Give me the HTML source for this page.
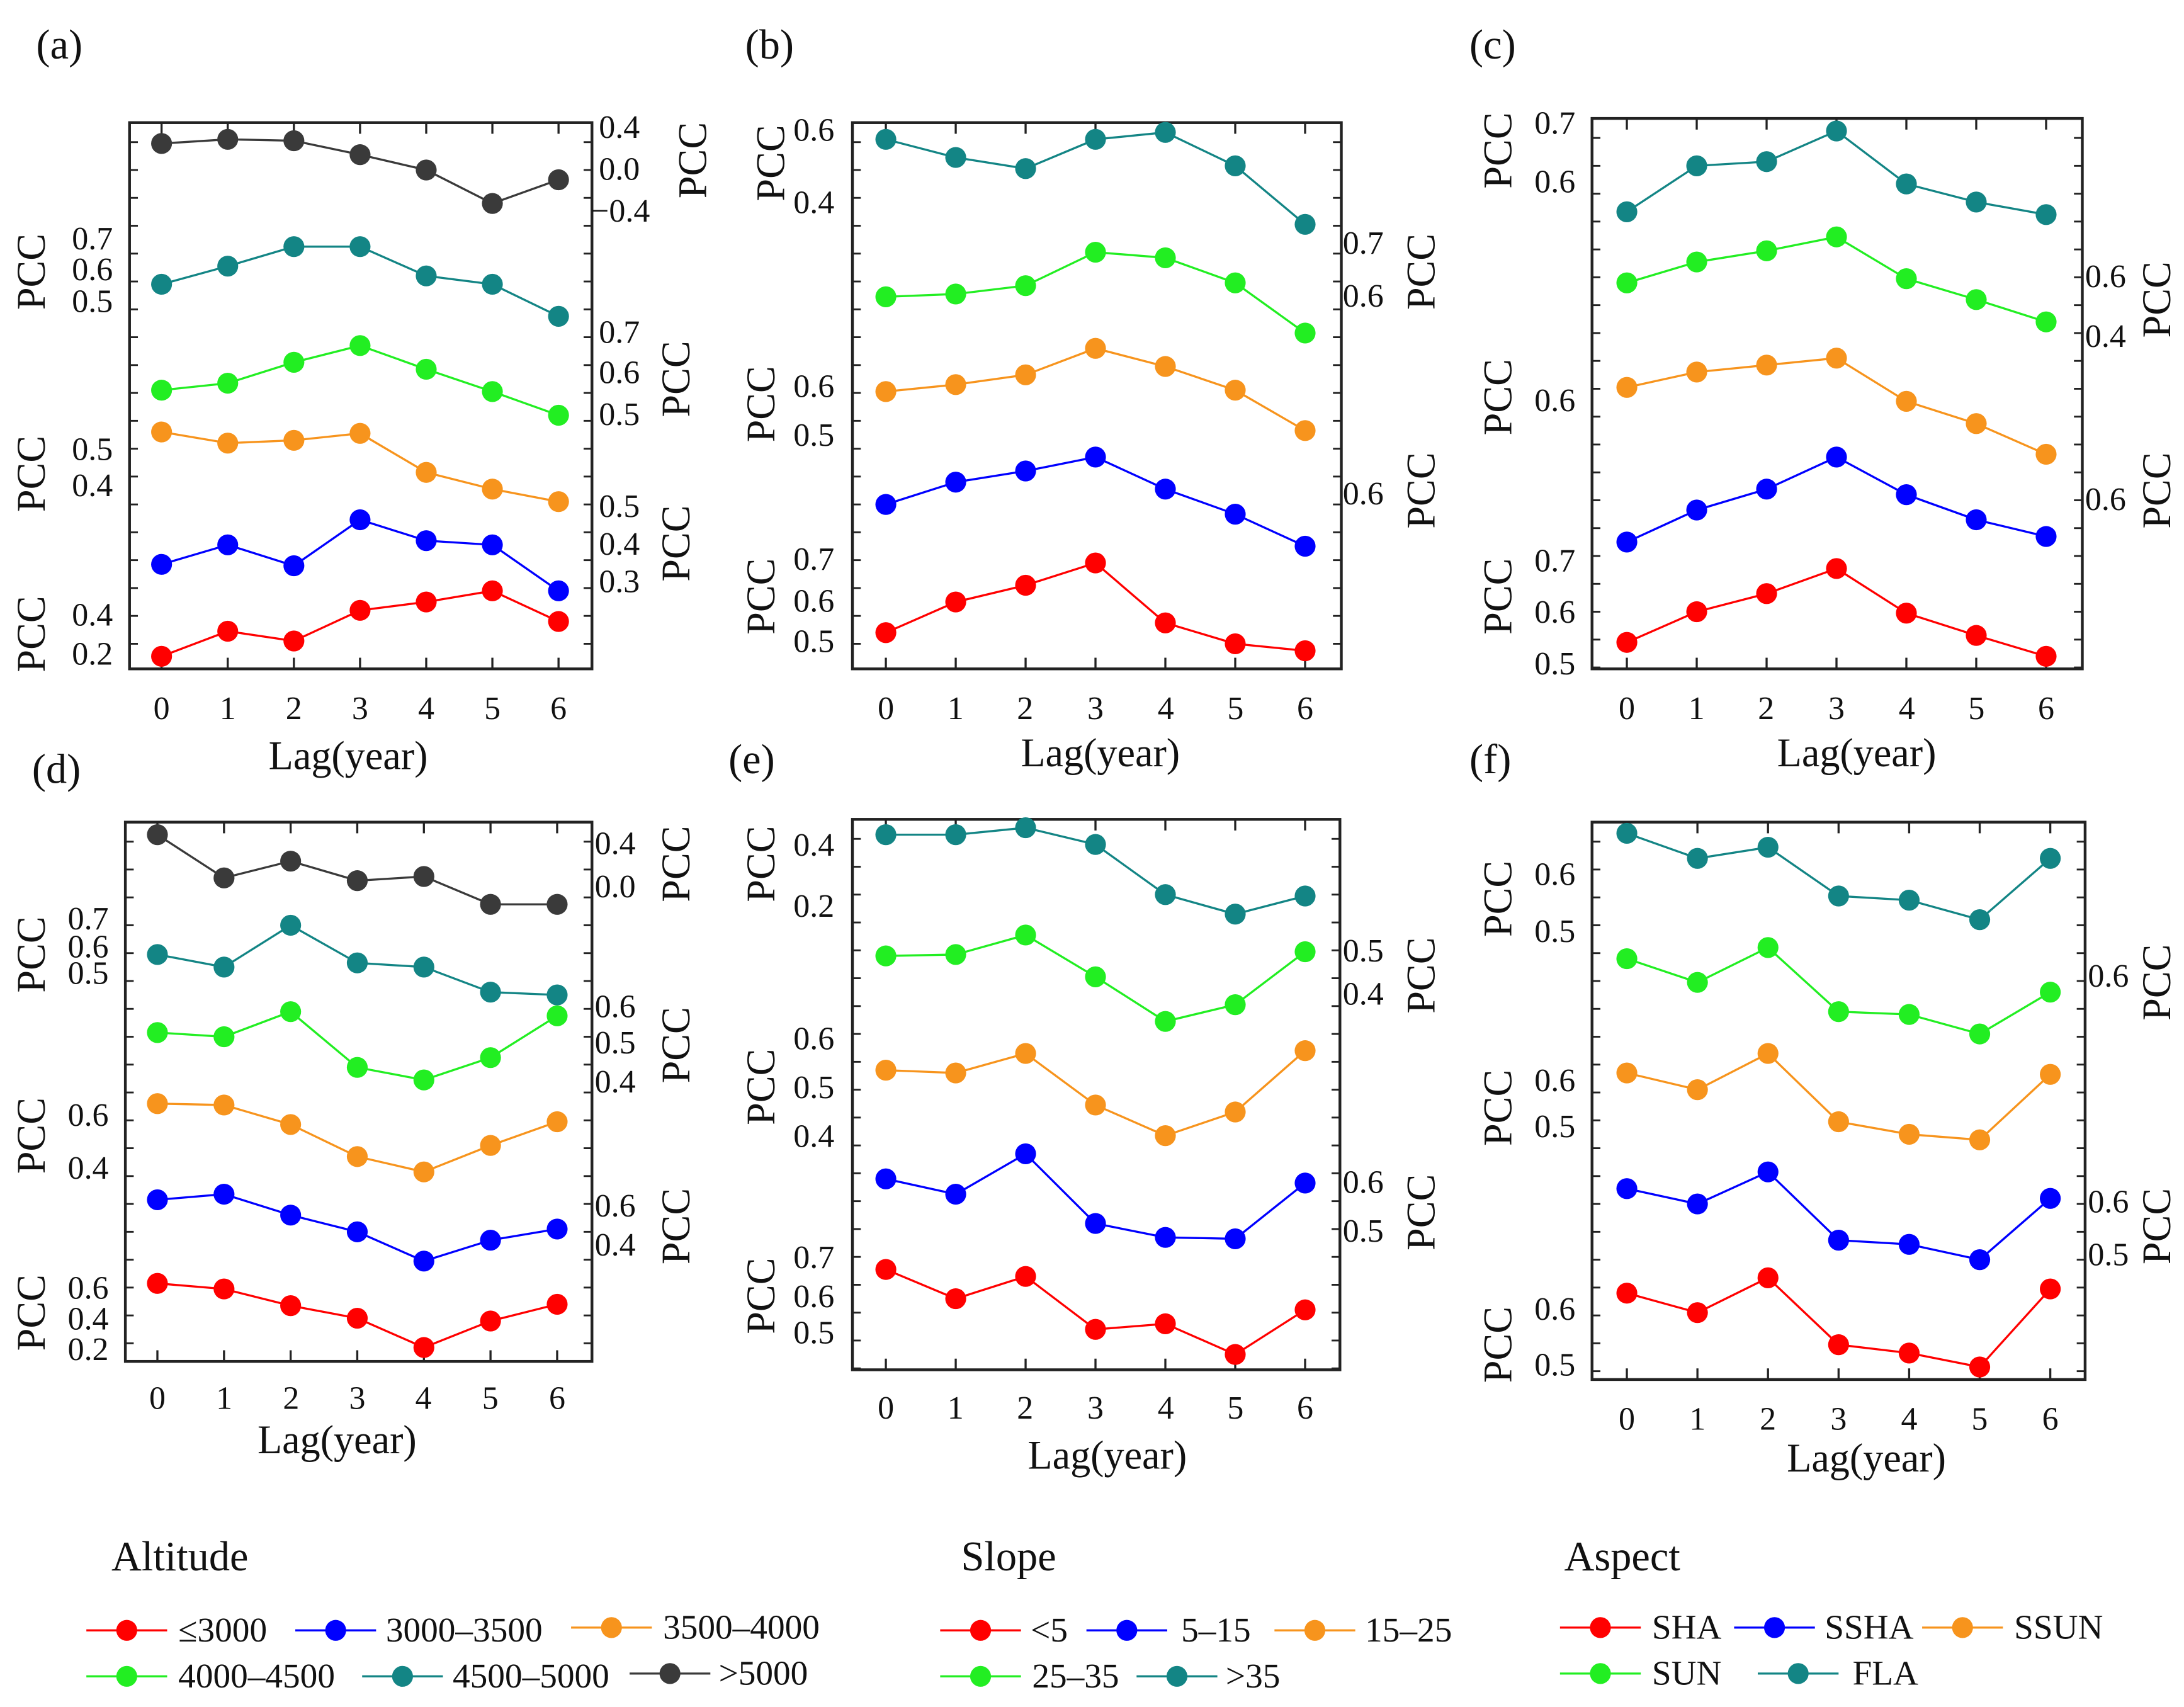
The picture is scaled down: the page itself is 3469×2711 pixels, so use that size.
<!DOCTYPE html>
<html><head><meta charset="utf-8"><style>
html,body{margin:0;padding:0;background:#fff}
svg{display:block}
text{font-family:"Liberation Serif",serif;fill:#111}
.t{font-size:23.5px}
.p{font-size:29px}
.l{font-size:30px}
.g{font-size:25px}
</style></head><body>
<svg id="s" width="3469" height="2711" viewBox="0 0 1568 1225" preserveAspectRatio="none" xmlns="http://www.w3.org/2000/svg">
<g id="shapes"></g>
<text class="l" x="26" y="42">(a)</text>
<text class="l" x="535" y="42">(b)</text>
<text class="l" x="1055" y="42">(c)</text>
<text class="l" x="23" y="562">(d)</text>
<text class="l" x="523" y="555">(e)</text>
<text class="l" x="1055" y="555">(f)</text>
<g class="t" text-anchor="middle">
<text x="116" y="516">0</text><text x="163.5" y="516">1</text><text x="211" y="516">2</text><text x="258.5" y="516">3</text><text x="306" y="516">4</text><text x="353.5" y="516">5</text><text x="401" y="516">6</text>
<text x="636" y="516">0</text><text x="686" y="516">1</text><text x="736" y="516">2</text><text x="786.5" y="516">3</text><text x="837" y="516">4</text><text x="887" y="516">5</text><text x="937" y="516">6</text>
<text x="1168" y="516">0</text><text x="1218" y="516">1</text><text x="1268" y="516">2</text><text x="1318.5" y="516">3</text><text x="1369" y="516">4</text><text x="1419" y="516">5</text><text x="1469" y="516">6</text>
<text x="113" y="1011">0</text><text x="161" y="1011">1</text><text x="209" y="1011">2</text><text x="256.5" y="1011">3</text><text x="304" y="1011">4</text><text x="352" y="1011">5</text><text x="400" y="1011">6</text>
<text x="636" y="1018">0</text><text x="686" y="1018">1</text><text x="736" y="1018">2</text><text x="786.5" y="1018">3</text><text x="837" y="1018">4</text><text x="887" y="1018">5</text><text x="937" y="1018">6</text>
<text x="1168" y="1026">0</text><text x="1218.7" y="1026">1</text><text x="1269.3" y="1026">2</text><text x="1320" y="1026">3</text><text x="1370.7" y="1026">4</text><text x="1421.3" y="1026">5</text><text x="1472" y="1026">6</text>
</g>
<g class="p" text-anchor="middle">
<text x="250" y="552">Lag(year)</text>
<text x="790" y="550">Lag(year)</text>
<text x="1333" y="550">Lag(year)</text>
<text x="242" y="1043">Lag(year)</text>
<text x="795" y="1054">Lag(year)</text>
<text x="1340" y="1056">Lag(year)</text>
</g>
<g class="t" text-anchor="end">
<text x="81" y="179">0.7</text><text x="81" y="201">0.6</text><text x="81" y="224">0.5</text>
<text x="81" y="330">0.5</text><text x="81" y="356">0.4</text>
<text x="81" y="449">0.4</text><text x="81" y="477">0.2</text>
<text x="599" y="101">0.6</text><text x="599" y="153">0.4</text>
<text x="599" y="285">0.6</text><text x="599" y="320">0.5</text>
<text x="599" y="409">0.7</text><text x="599" y="439">0.6</text><text x="599" y="468">0.5</text>
<text x="1131" y="96">0.7</text><text x="1131" y="138">0.6</text>
<text x="1131" y="295">0.6</text>
<text x="1131" y="410">0.7</text><text x="1131" y="447">0.6</text><text x="1131" y="484">0.5</text>
<text x="78" y="667">0.7</text><text x="78" y="687">0.6</text><text x="78" y="706">0.5</text>
<text x="78" y="808">0.6</text><text x="78" y="846">0.4</text>
<text x="78" y="932">0.6</text><text x="78" y="954">0.4</text><text x="78" y="976">0.2</text>
<text x="599" y="614">0.4</text><text x="599" y="658">0.2</text>
<text x="599" y="753">0.6</text><text x="599" y="788">0.5</text><text x="599" y="823">0.4</text>
<text x="599" y="910">0.7</text><text x="599" y="938">0.6</text><text x="599" y="964">0.5</text>
<text x="1131" y="635">0.6</text><text x="1131" y="676">0.5</text>
<text x="1131" y="783">0.6</text><text x="1131" y="816">0.5</text>
<text x="1131" y="947">0.6</text><text x="1131" y="987">0.5</text>
</g>
<g class="t">
<text x="430" y="99">0.4</text><text x="430" y="129">0.0</text><text x="424" y="159">−0.4</text>
<text x="430" y="246">0.7</text><text x="430" y="275">0.6</text><text x="430" y="305">0.5</text>
<text x="430" y="371">0.5</text><text x="430" y="398">0.4</text><text x="430" y="425">0.3</text>
<text x="964" y="182">0.7</text><text x="964" y="220">0.6</text>
<text x="964" y="362">0.6</text>
<text x="1497" y="206">0.6</text><text x="1497" y="249">0.4</text>
<text x="1497" y="366">0.6</text>
<text x="427" y="613">0.4</text><text x="427" y="644">0.0</text>
<text x="427" y="730">0.6</text><text x="427" y="756">0.5</text><text x="427" y="784">0.4</text>
<text x="427" y="873">0.6</text><text x="427" y="901">0.4</text>
<text x="964" y="690">0.5</text><text x="964" y="721">0.4</text>
<text x="964" y="856">0.6</text><text x="964" y="891">0.5</text>
<text x="1499" y="708">0.6</text>
<text x="1499" y="870">0.6</text><text x="1499" y="908">0.5</text>
</g>
<g class="p" text-anchor="middle">
<text transform="translate(32,195) rotate(-90)">PCC</text>
<text transform="translate(32,340) rotate(-90)">PCC</text>
<text transform="translate(32,455) rotate(-90)">PCC</text>
<text transform="translate(507,115) rotate(-90)">PCC</text>
<text transform="translate(495,272) rotate(-90)">PCC</text>
<text transform="translate(495,390) rotate(-90)">PCC</text>
<text transform="translate(563,117) rotate(-90)">PCC</text>
<text transform="translate(556,290) rotate(-90)">PCC</text>
<text transform="translate(556,428) rotate(-90)">PCC</text>
<text transform="translate(1030,195) rotate(-90)">PCC</text>
<text transform="translate(1030,352) rotate(-90)">PCC</text>
<text transform="translate(1085,108) rotate(-90)">PCC</text>
<text transform="translate(1085,285) rotate(-90)">PCC</text>
<text transform="translate(1085,428) rotate(-90)">PCC</text>
<text transform="translate(1558,215) rotate(-90)">PCC</text>
<text transform="translate(1558,352) rotate(-90)">PCC</text>
<text transform="translate(32,685) rotate(-90)">PCC</text>
<text transform="translate(32,815) rotate(-90)">PCC</text>
<text transform="translate(32,942) rotate(-90)">PCC</text>
<text transform="translate(495,620) rotate(-90)">PCC</text>
<text transform="translate(495,750) rotate(-90)">PCC</text>
<text transform="translate(495,880) rotate(-90)">PCC</text>
<text transform="translate(556,620) rotate(-90)">PCC</text>
<text transform="translate(556,780) rotate(-90)">PCC</text>
<text transform="translate(556,930) rotate(-90)">PCC</text>
<text transform="translate(1030,700) rotate(-90)">PCC</text>
<text transform="translate(1030,870) rotate(-90)">PCC</text>
<text transform="translate(1085,645) rotate(-90)">PCC</text>
<text transform="translate(1085,795) rotate(-90)">PCC</text>
<text transform="translate(1085,965) rotate(-90)">PCC</text>
<text transform="translate(1558,705) rotate(-90)">PCC</text>
<text transform="translate(1558,880) rotate(-90)">PCC</text>
</g>
<g class="l">
<text x="80" y="1127">Altitude</text>
<text x="690" y="1127">Slope</text>
<text x="1123" y="1127">Aspect</text>
</g>
<g class="g">
<text x="128" y="1178">≤3000</text><text x="277" y="1178">3000–3500</text><text x="476" y="1176">3500–4000</text>
<text x="128" y="1211">4000–4500</text><text x="325" y="1211">4500–5000</text><text x="516" y="1209">&gt;5000</text>
<text x="740" y="1178">&lt;5</text><text x="848" y="1178">5–15</text><text x="980" y="1178">15–25</text>
<text x="741" y="1211">25–35</text><text x="880" y="1211">&gt;35</text>
<text x="1186" y="1176">SHA</text><text x="1310" y="1176">SSHA</text><text x="1446" y="1176">SSUN</text>
<text x="1186" y="1209">SUN</text><text x="1330" y="1209">FLA</text>
</g>
</svg>
<script>
var C={r:"#ff0000",b:"#0000ff",o:"#f7941d",g:"#22ee22",t:"#138585",k:"#3a3a3a"};
var P=[
 {box:[93,88,425,480],x0:116,x1:401,s:{k:[103,100,101,111,122,146,129],t:[204,191,177,177,198,204,227],g:[280,275,260,248,265,281,298],o:[310,318,316,311,339,351,360],b:[405,391,406,373,388,391,424],r:[471,453,460,438,432,424,446]}},
 {box:[612,88,963,480],x0:636,x1:937,s:{t:[100,113,121,100,95,119,161],g:[213,211,205,181,185,203,239],o:[281,276,269,250,263,280,309],b:[362,346,338,328,351,369,392],r:[454,432,420,404,447,462,467]}},
 {box:[1143,85,1495,480],x0:1168,x1:1469,s:{t:[152,119,116,94,132,145,154],g:[203,188,180,170,200,215,231],o:[278,267,262,257,288,304,326],b:[389,366,351,328,355,373,385],r:[461,439,426,408,440,456,471]}},
 {box:[90,590,425,977],x0:113,x1:400,s:{k:[599,630,618,632,629,649,649],t:[685,694,664,691,694,712,714],g:[741,744,726,766,775,759,729],o:[792,793,807,830,841,822,805],b:[861,857,872,884,905,890,882],r:[921,925,937,946,967,948,936]}},
 {box:[612,588,962,983],x0:636,x1:937,s:{t:[599,599,594,606,642,656,643],g:[686,685,671,701,733,721,683],o:[768,770,756,793,815,798,754],b:[846,857,828,878,888,889,849],r:[911,932,916,954,950,972,940]}},
 {box:[1143,590,1497,990],x0:1168,x1:1472,s:{t:[598,616,608,643,646,660,616],g:[688,705,680,726,728,742,712],o:[770,782,756,805,814,818,771],b:[853,864,841,890,893,904,860],r:[928,942,917,965,971,981,925]}}
];
var h="";
P.forEach(function(p){
 var b=p.box;
 h+='<rect x="'+b[0]+'" y="'+b[1]+'" width="'+(b[2]-b[0])+'" height="'+(b[3]-b[1])+'" fill="none" stroke="#222" stroke-width="2"/>';
 for(var i=0;i<7;i++){var x=p.x0+(p.x1-p.x0)*i/6;
  h+='<line x1="'+x+'" y1="'+b[3]+'" x2="'+x+'" y2="'+(b[3]-8)+'" stroke="#222" stroke-width="1.5"/>';
  h+='<line x1="'+x+'" y1="'+b[1]+'" x2="'+x+'" y2="'+(b[1]+8)+'" stroke="#222" stroke-width="1.5"/>';}
 for(var y=b[1]+14;y<b[3];y+=20){
  h+='<line x1="'+b[0]+'" y1="'+y+'" x2="'+(b[0]+6)+'" y2="'+y+'" stroke="#222" stroke-width="1.3"/>';
  h+='<line x1="'+b[2]+'" y1="'+y+'" x2="'+(b[2]-6)+'" y2="'+y+'" stroke="#222" stroke-width="1.3"/>';}
 for(var k in p.s){var v=p.s[k],pts=[];
  for(var i=0;i<7;i++){pts.push((p.x0+(p.x1-p.x0)*i/6)+","+v[i]);}
  h+='<polyline points="'+pts.join(" ")+'" fill="none" stroke="'+C[k]+'" stroke-width="1.5"/>';
  pts.forEach(function(q){var a=q.split(",");h+='<circle cx="'+a[0]+'" cy="'+a[1]+'" r="7.5" fill="'+C[k]+'"/>';});}
});
var L=[[62,1170,"r"],[212,1170,"b"],[410,1168,"o"],[62,1203,"g"],[260,1203,"t"],[452,1201,"k"],
[675,1170,"r"],[780,1170,"b"],[915,1170,"o"],[675,1203,"g"],[816,1203,"t"],
[1120,1168,"r"],[1245,1168,"b"],[1380,1168,"o"],[1120,1201,"g"],[1262,1201,"t"]];
L.forEach(function(l){h+='<line x1="'+l[0]+'" y1="'+l[1]+'" x2="'+(l[0]+58)+'" y2="'+l[1]+'" stroke="'+C[l[2]]+'" stroke-width="1.5"/><circle cx="'+(l[0]+29)+'" cy="'+l[1]+'" r="7.5" fill="'+C[l[2]]+'"/>';});
document.getElementById("shapes").innerHTML=h;
</script>
</body></html>
